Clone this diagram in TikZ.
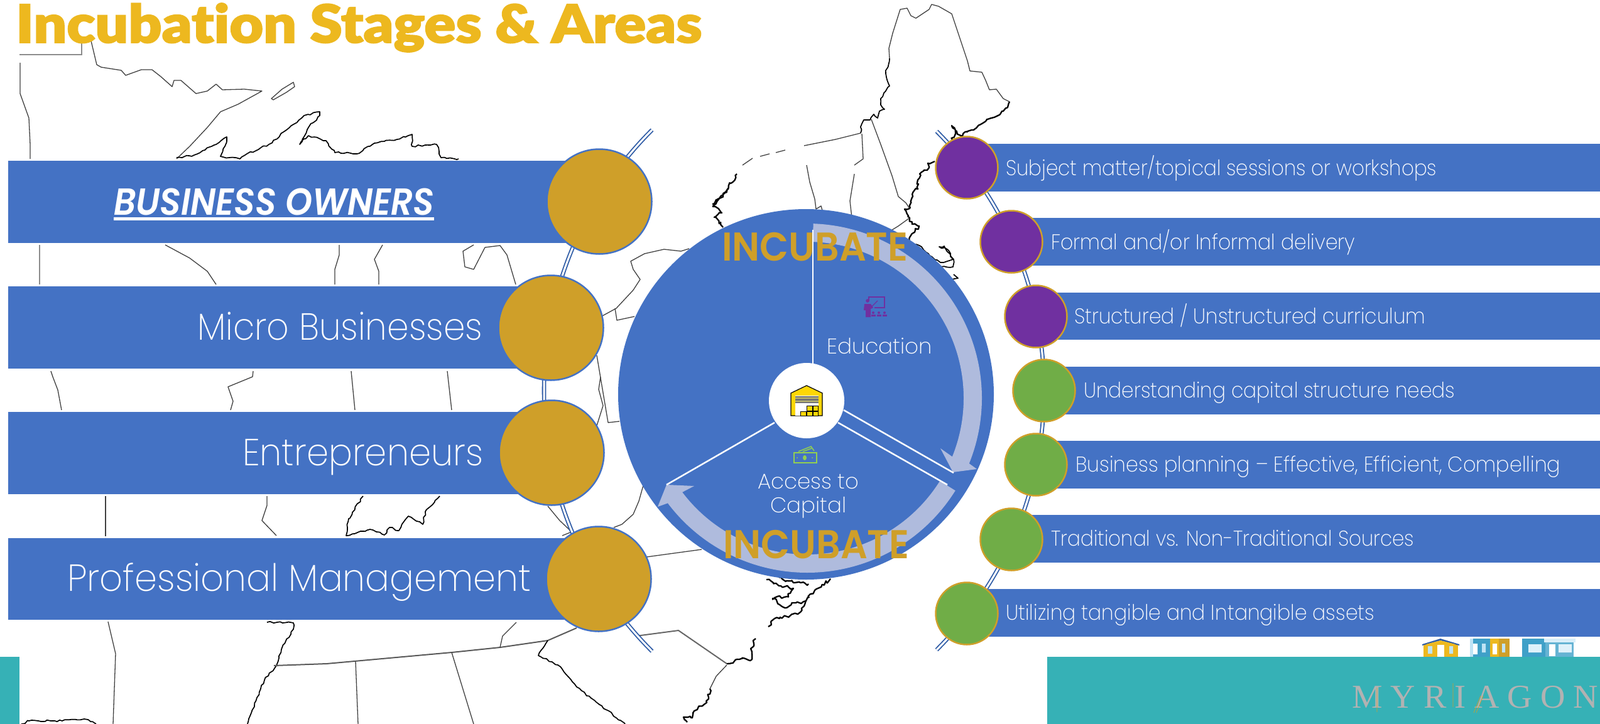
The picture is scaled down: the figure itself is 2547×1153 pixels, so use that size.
\documentclass[tikz,border=0pt]{standalone}
\usepackage{graphicx}
\usepackage{fontspec}
\usetikzlibrary{calc,shapes.geometric,decorations.pathmorphing}
\setmainfont{Poppins}[UprightFont=* ExtraLight,BoldFont=* SemiBold,ItalicFont=* Light Italic,BoldItalicFont=* SemiBold Italic]
\newfontfamily\medf{Poppins}[UprightFont=* SemiBold]
\newfontfamily\titlef{Lato}[UprightFont=* Black,Ligatures=NoCommon,FakeBold=2]
\newfontfamily\logof{Liberation Serif}[LetterSpace=24]
\definecolor{barblue}{HTML}{4472C4}
\definecolor{arcblue}{HTML}{2F5CA6}
\definecolor{gold}{HTML}{CF9F29}
\definecolor{titlegold}{HTML}{EDB81F}
\definecolor{purp}{HTML}{7030A0}
\definecolor{grn}{HTML}{70AD47}
\definecolor{teal2}{HTML}{36B1B6}
\definecolor{pale}{HTML}{AFBBDD}
\definecolor{hblue}{HTML}{3FA0C8}
\definecolor{lblue}{HTML}{BFE3F5}
\newcommand{\fitw}[3]{\resizebox{#1pt}{\height}{\fontsize{#2}{#2}\selectfont #3}}
\tikzset{
 mapl/.style={line width=1.3pt,draw=black!75,line join=round},
 coast/.style={line width=1.7pt,draw=black,line join=round,decorate,decoration={random steps,segment length=5pt,amplitude=1.5pt}},
 coastb/.style={line width=2.3pt,draw=black,line join=round,decorate,decoration={random steps,segment length=3.5pt,amplitude=2.6pt}},
 grayl/.style={line width=2pt,draw=black!45},
 dblarc/.style={draw=arcblue,double=white,double distance=3pt,line width=1.8pt},
 barf/.style={fill=barblue,draw=none},
 lbl/.style={anchor=base west,inner sep=0pt,text=white},
 bigc/.style={circle,inner sep=0pt,minimum size=167pt,fill=gold,draw=barblue,line width=2.5pt},
 purc/.style={circle,inner sep=0pt,minimum size=99pt,fill=purp,draw=gold,line width=2.5pt},
 grnc/.style={circle,inner sep=0pt,minimum size=99pt,fill=grn,draw=gold,line width=2.5pt},
 spoke/.style={draw=white,line width=2.5pt},
 incub/.style={anchor=base west,inner sep=0pt,text=gold},
}
\begin{document}
\begin{tikzpicture}[x=1pt,y=1pt,yscale=-1]
\useasboundingbox (0,0) rectangle (2547,1153);
\fill[white] (0,0) rectangle (2547,1153);
% ---------- map ----------
\draw[grayl] (31,87) -- (130,87) -- (130,69);
\draw[grayl] (63,390) -- (63,453);
\draw[mapl] (144,61) -- (154,103) -- (161,107) -- (193,112) -- (200,120) -- (225,111) -- (242,111) -- (256,122) -- (274,138) -- (277,128) -- (288,128) -- (312,149) -- (330,145) -- (344,134) -- (354,143) -- (389,142) -- (417,145) -- (379,166) -- (351,178) -- (330,203) -- (302,233) -- (281,253);
\draw[mapl] (432,157) -- (449,142) -- (467,131) -- (469,138) -- (456,147) -- (435,159) -- cycle;
\draw[mapl] (32,100) -- (32,149) -- (46,188) -- (48,230) -- (48,253);
\draw[coast] (281,251) -- (309,247) -- (344,230) -- (361,218) -- (358,233) -- (351,249) -- (365,251) -- (382,253) -- (393,245) -- (428,230) -- (456,207) -- (484,184) -- (509,178) -- (509,184) -- (491,203) -- (477,230) -- (491,216) -- (519,224) -- (533,243) -- (568,245) -- (596,228) -- (632,222) -- (656,214) -- (656,233) -- (695,230) -- (702,251) -- (730,253);
\draw[mapl] (263,390) -- (302,411) -- (330,432) -- (344,453);
\draw[mapl] (540,390) -- (540,406) -- (533,429) -- (533,453);
\draw[mapl] (609,390) -- (596,413) -- (603,432) -- (603,453);
\draw[mapl] (754,390) -- (737,400) -- (740,425) -- (754,429) -- (772,394) -- (796,391) -- (807,406) -- (821,453);
\draw[mapl] (81,591) -- (84,600) -- (92,621) -- (98,653);
\draw[mapl] (403,591) -- (402,600) -- (363,616) -- (371,639) -- (367,653);
\draw[mapl] (559,591) -- (565,653);
\draw[mapl] (712,591) -- (719,653);
\draw[mapl] (956,600) -- (953,620) -- (960,646) -- (949,681);
\draw[mapl] (959,503) -- (981,491) -- (1008,462) -- (1019,445) -- (1008,429) -- (1004,416) -- (1026,404) -- (1057,397) -- (1084,400) -- (1097,396);
\draw[mapl] (979,491) -- (982,510) -- (1010,504);
\draw[mapl] (950,566) -- (968,673) -- (986,671);
\draw[mapl] (168,790) -- (168,854);
\draw[mapl] (425,790) -- (425,805) -- (417,829) -- (440,853);
\draw[coast] (578,790) -- (555,826) -- (551,853) -- (589,843) -- (612,852) -- (620,840) -- (635,845) -- (650,822) -- (673,835) -- (677,815) -- (700,790);
\draw[mapl] (872,806) -- (891,829) -- (910,847) -- (895,853);
\draw[mapl] (1024,773) -- (1017,798) -- (1008,819) -- (990,835) -- (977,840);
\draw[mapl] (1029,887) -- (1117,875);
\draw[mapl] (172,990) -- (184,1041) -- (180,1153);
\draw[coast] (425,991) -- (467,992) -- (467,1002) -- (448,1034) -- (440,1060) -- (421,1083) -- (409,1111) -- (394,1153);
\draw[line width=2pt,draw=black!65] (436,1060) -- (520,1057) -- (719,1039) -- (796,1031) -- (872,1020) -- (918,1000);
\draw[mapl] (822,991) -- (800,1013) -- (796,1031);
\draw[mapl] (566,1053) -- (570,1153);
\draw[mapl] (719,1039) -- (754,1153);
\draw[coast] (872,1020) -- (857,1044) -- (888,1059) -- (918,1094) -- (949,1118) -- (995,1153);
\draw[line width=2pt,draw=black!60] (1012,1013) -- (1080,1004) -- (1157,1057);
\draw[mapl] (1157,1059) -- (1140,1077) -- (1130,1097);
\draw[coastb] (1130,1097) -- (1128,1113) -- (1110,1130) -- (1100,1143) -- (1088,1142) -- (1094,1150);
\draw[coastb] (1157,1057) -- (1177,1050) -- (1197,1050) -- (1195,1033) -- (1203,1017);
\draw[coastb] (1223,998) -- (1233,985) -- (1270,978) -- (1283,957) -- (1297,940) -- (1322,923);
\draw[coastb] (1220,923) -- (1240,933) -- (1263,937) -- (1253,950) -- (1230,953) -- (1247,967) -- (1267,960) -- (1283,957);
\draw[coastb] (1240,920) -- (1263,928) -- (1287,930);
\draw[coast] (34,1153) -- (46,1148) -- (99,1148) -- (134,1145) -- (153,1153);
% New York / New England
\draw[coastb] (1134,325) -- (1157,303) -- (1173,277);
\draw[mapl] (1182,263) -- (1198,252);
\draw[mapl] (1210,249) -- (1225,245);
\draw[mapl] (1235,243) -- (1250,239);
\draw[mapl] (1280,232) -- (1330,222) -- (1370,212);
\draw[coastb] (1160,300) -- (1135,329) -- (1149,339) -- (1137,346) -- (1151,362);
\draw[coast] (1370,212) -- (1372,197) -- (1375,191) -- (1385,191) -- (1391,182) -- (1397,188) -- (1400,177) -- (1408,174) -- (1402,167) -- (1402,157) -- (1416,137) -- (1410,117) -- (1416,93);
\draw[mapl] (1416,93) -- (1415,77) -- (1421,53) -- (1433,15) -- (1444,13) -- (1450,25) -- (1458,29) -- (1479,15) -- (1483,7) -- (1494,10) -- (1515,22) -- (1540,97) -- (1544,113) -- (1563,115) -- (1569,128) -- (1575,143) -- (1586,142) -- (1597,157) -- (1607,162);
\draw[coastb] (1607,162) -- (1597,177) -- (1582,187) -- (1563,197) -- (1540,210) -- (1532,217) -- (1521,208) -- (1515,200) -- (1521,213) -- (1510,230);
\draw[coastb] (1488,257) -- (1477,260) -- (1479,267) -- (1464,277) -- (1462,293) -- (1453,313) -- (1448,332) -- (1440,333) -- (1448,347) -- (1452,357) -- (1463,360) -- (1452,372) -- (1448,387);
\draw[coast] (1448,387) -- (1467,393) -- (1480,407) -- (1497,418) -- (1517,413) -- (1508,397) -- (1495,393) -- (1503,392) -- (1518,413) -- (1517,425) -- (1497,425) -- (1485,430);
\draw[coast] (1515,445) -- (1525,443) -- (1518,437);
\draw[mapl] (1387,190) -- (1402,230) -- (1420,280) -- (1430,313) -- (1442,323) -- (1448,332);
\draw[mapl] (1372,213) -- (1374,253) -- (1360,263);
\draw[mapl] (1360,277) -- (1353,320) -- (1356,347);
\draw[mapl] (1284,263) -- (1289,290) -- (1297,317) -- (1299,333) -- (1307,328) -- (1309,335);
\draw[mapl] (1448,347) -- (1430,360) -- (1417,368);
% ---------- double arcs ----------
\coordinate (laTop) at ($(1453,622)+(-135:587)$);
\coordinate (raTop) at ($(1078,622)+(-45:584)$);
\draw[dblarc] (laTop) arc[start angle=-135,end angle=-225,radius=587];
\draw[dblarc] (raTop) arc[start angle=-45,end angle=45,radius=584];
% ---------- left bars ----------
\fill[barf] (13,256) rectangle (954,387);
\fill[barf] (13,456) rectangle (877,587);
\fill[barf] (13,656) rectangle (878,787);
\fill[barf] (13,857) rectangle (953,987);
\node[bigc] (g1) at (954,321) {};
\node[bigc] (g2) at (877,522) {};
\node[bigc] (g3) at (878,721) {};
\node[bigc] (g4) at (953,922) {};
\node[lbl] (t1) at (181,342) {\fitw{510}{60}{\textbf{\textit{BUSINESS OWNERS}}}};
\fill[white] (181,346) rectangle (691,351);
\node[lbl] (t2) at (314,541) {\fitw{454}{60}{Micro Businesses}};
\node[lbl] (t3) at (386,741) {\fitw{383}{60}{Entrepreneurs}};
\node[lbl] (t4) at (107,941) {\fitw{738}{60}{Professional Management}};
% ---------- right bars ----------
\fill[barf] (1539,229) rectangle (2547,305);
\fill[barf] (1610,347) rectangle (2547,423);
\fill[barf] (1649,466) rectangle (2547,541);
\fill[barf] (1662,584) rectangle (2547,660);
\fill[barf] (1649,702) rectangle (2547,778);
\fill[barf] (1610,820) rectangle (2547,896);
\fill[barf] (1539,938) rectangle (2547,1014);
\node[purc] (p1) at (1539,267) {};
\node[purc] (p2) at (1610,385) {};
\node[purc] (p3) at (1649,504) {};
\node[grnc] (p4) at (1662,622) {};
\node[grnc] (p5) at (1649,740) {};
\node[grnc] (p6) at (1610,859) {};
\node[grnc] (p7) at (1539,977) {};
\node[lbl] (r1) at (1601,279) {\fitw{686}{34}{Subject matter/topical sessions or workshops}};
\node[lbl] (r2) at (1673,397) {\fitw{484}{34}{Formal and/or Informal delivery}};
\node[lbl] (r3) at (1710,515) {\fitw{559}{34}{Structured / Unstructured curriculum}};
\node[lbl] (r4) at (1725,633) {\fitw{591}{34}{Understanding capital structure needs}};
\node[lbl] (r5) at (1712,751) {\fitw{772}{34}{Business planning – Effective, Efficient, Compelling}};
\node[lbl] (r6) at (1673,869) {\fitw{578}{34}{Traditional vs. Non-Traditional Sources}};
\node[lbl] (r7) at (1601,987) {\fitw{587}{34}{Utilizing tangible and Intangible assets}};
% ---------- central wheel ----------
\node[ellipse,inner sep=0pt,minimum width=598pt,minimum height=590pt,fill=barblue] (wheel) at (1283,628) {};
\fill[pale] (1285,634) ++(-88:278) arc[start angle=-88,end angle=22,radius=278] -- (1555,747) -- (1517,752) -- (1497,714) -- ($(1285,634)+(22:249)$) arc[start angle=22,end angle=-88,radius=249] -- cycle;
\fill[pale] (1285,634) ++(32:278) arc[start angle=32,end angle=143,radius=278] -- (1047,807) -- (1061,772) -- (1105,774) -- ($(1285,634)+(143:249)$) arc[start angle=143,end angle=32,radius=249] -- cycle;
\coordinate (s1a) at (1294,366); \coordinate (s1b) at (1294,590);
\coordinate (s2a) at (1343,653); \coordinate (s2b) at (1518,753);
\coordinate (s3a) at (1334,673); \coordinate (s3b) at (1508,772);
\coordinate (s4a) at (1233,673); \coordinate (s4b) at (1061,772);
\draw[spoke] (s1a) -- (s1b);
\draw[spoke] (s2a) -- (s2b);
\draw[spoke] (s3a) -- (s3b);
\draw[spoke] (s4a) -- (s4b);
\node[circle,inner sep=0pt,minimum size=120pt,fill=white] (hub) at (1284,638) {};
\node[lbl] (edu) at (1316,563) {\fitw{168}{34}{Education}};
\node[lbl] (acc1) at (1206,778) {\fitw{161}{34}{Access to}};
\node[lbl] (acc2) at (1226,816) {\fitw{121}{34}{Capital}};
\node[incub] (inc1) at (1149,415) {\fitw{296}{64}{\medf INCUBATE}};
\node[incub] (inc2) at (1151,889) {\fitw{296}{64}{\medf INCUBATE}};
% warehouse icon
\filldraw[fill=yellow!75!orange,draw=black,line width=1.2pt] (1259,662) -- (1259,626) -- (1284,614) -- (1309,626) -- (1309,662) -- cycle;
\fill[white] (1266,630) rectangle (1303,662);
\fill[black!55] (1266,631) rectangle (1303,642);
\draw[yellow!40!gray,line width=1.2pt] (1266,634) -- (1303,634) (1266,639) -- (1303,639);
\filldraw[fill=yellow!75!orange,draw=black,line width=1pt] (1274,655) rectangle (1283,662);
\filldraw[fill=yellow!75!orange,draw=black,line width=1pt] (1284,646) rectangle (1293,654);
\filldraw[fill=yellow!75!orange,draw=black,line width=1pt] (1294,646) rectangle (1302,654);
\filldraw[fill=yellow!75!orange,draw=black,line width=1pt] (1284,655) rectangle (1293,662);
\filldraw[fill=yellow!75!orange,draw=black,line width=1pt] (1294,655) rectangle (1302,662);
% teacher icon
\draw[purp,line width=1.5pt] (1383,480) -- (1383,473) -- (1408,473) -- (1408,490) -- (1392,490);
\draw[purp,line width=1.2pt] (1385,491) -- (1397,479);
\fill[purp] (1381,479) circle (2.8);
\fill[purp] (1376,484) -- (1386,484) -- (1390,490) -- (1386,492) -- (1386,505) -- (1378,505) -- (1378,494) -- (1375,494) -- cycle;
\foreach \px in {1390,1399,1408}{\fill[purp] (\px,498) circle (2); \fill[purp] (\px-3.5,504) rectangle (\px+3.5,501);}
% money icon
\definecolor{mgreen}{HTML}{92D050}
\draw[mgreen,line width=2pt] (1264,721) rectangle (1300,737);
\fill[mgreen] (1281,729) ellipse [x radius=3,y radius=4];
\fill[mgreen] (1269,729) circle (1) (1293,729) circle (1);
\draw[mgreen,line width=1.5pt] (1271,719) -- (1291,711) -- (1296,718);
\draw[mgreen,line width=1.5pt] (1278,719) -- (1292,714);
% ---------- teal blocks ----------
\fill[teal2] (0,1046) rectangle (31,1153);
\fill[teal2] (1667,1046) rectangle (2547,1153);
\node[anchor=base west,inner sep=0pt,text=black!30] (logo) at (2152,1127) {\fitw{392}{53}{\logof MYRIAGON}};
\draw[gold,line width=.7pt] (2192,1095) -- (2192,1134) (2313,1088) -- (2313,1126) (2346,1135) -- (2357,1108) (2350,1135) -- (2361,1108);
% ---------- houses ----------
\fill[titlegold] (2266,1026) rectangle (2321,1046);
\fill[arcblue] (2264,1026) -- (2293,1017) -- (2323,1026) -- (2323,1028) -- (2293,1020) -- (2264,1028) -- cycle;
\fill[titlegold] (2270,1026) -- (2293,1020) -- (2317,1026) -- cycle;
\fill[white] (2288,1027) rectangle (2299,1046);
\fill[lblue] (2273,1029) rectangle (2280,1041) (2307,1029) rectangle (2313,1041);
\fill[hblue] (2340,1017) rectangle (2372,1046);
\fill[gold] (2372,1017) rectangle (2403,1046);
\fill[titlegold] (2372,1017) rectangle (2386,1046);
\fill[lblue] (2340,1017) rectangle (2345,1046);
\fill[white] (2345,1025) rectangle (2352,1042) (2376,1025) rectangle (2383,1042);
\fill[lblue] (2359,1025) rectangle (2365,1039) (2391,1025) rectangle (2396,1039);
\fill[hblue] (2423,1017) rectangle (2463,1046);
\fill[lblue!60!white] (2458,1017) rectangle (2508,1023);
\fill[hblue!80!white] (2460,1023) rectangle (2505,1046);
\fill[white] (2466,1026) rectangle (2476,1045);
\fill[lblue!50!white] (2433,1026) rectangle (2454,1039) (2481,1026) rectangle (2502,1039);
% ---------- title ----------
\node[anchor=base west,inner sep=0pt,text=titlegold] (title) at (25,68) {\fitw{1092}{84}{\titlef Incubation Stages \& Areas}};
\end{tikzpicture}
\end{document}
